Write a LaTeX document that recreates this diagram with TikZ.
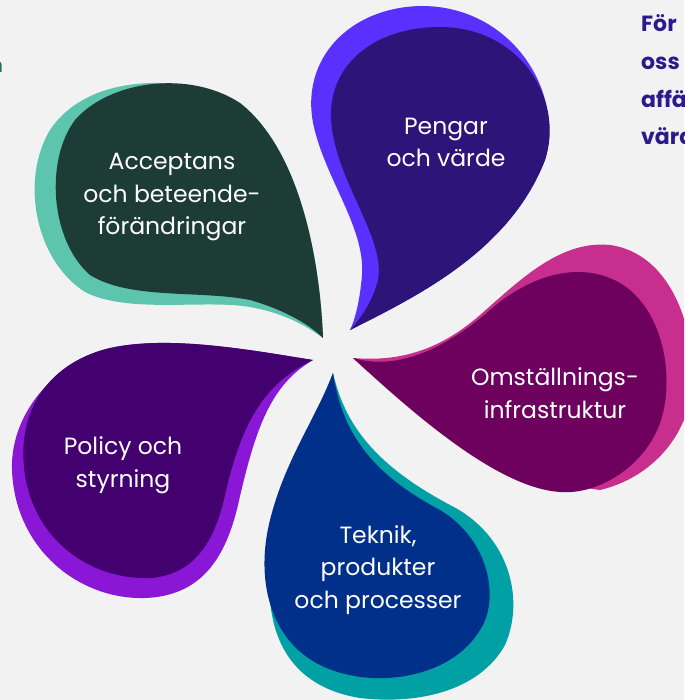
\documentclass[tikz,border=0pt]{standalone}
\usepackage{fontspec}
\setmainfont{Poppins}
\definecolor{bg}{HTML}{F2F2F2}
\definecolor{pgIn}{HTML}{2D1478}
\definecolor{pgOut}{HTML}{5A30FF}
\definecolor{omIn}{HTML}{6E005E}
\definecolor{omOut}{HTML}{C72E8E}
\definecolor{teIn}{HTML}{00308A}
\definecolor{teOut}{HTML}{00A0A4}
\definecolor{poIn}{HTML}{43006F}
\definecolor{poOut}{HTML}{8A16D6}
\definecolor{acIn}{HTML}{1E3C36}
\definecolor{acOut}{HTML}{5DC4AE}
\definecolor{sideText}{HTML}{2D1A8A}
\definecolor{leftText}{HTML}{1E6E5E}
\tikzset{
  label/.style={align=center, text=white, inner sep=0pt, anchor=base,
    font=\fontsize{23.5}{32.5}\selectfont},
  sidetext/.style={align=left, text=sideText, inner sep=0pt, anchor=base west,
    font=\fontsize{22}{37.7}\selectfont\bfseries}
}
\begin{document}
\begin{tikzpicture}[x=1pt,y=-1pt]
\fill[bg] (0,0) rectangle (684,700);
\useasboundingbox (0,0) rectangle (684,700);
\begin{scope}
\clip (0,0) rectangle (684,700);
% Pengar
\fill[pgOut] (350,330) .. controls (420,295) and (510,250) .. (545,160)
  .. controls (565,90) and (510,5) .. (420,6)
  .. controls (345,8) and (295,65) .. (316,135)
  .. controls (330,185) and (365,230) .. (362,275)
  .. controls (360,300) and (355,320) .. (350,330) -- cycle;
\fill[pgIn] (350,330) .. controls (420,295) and (510,250) .. (545,160)
  .. controls (565,100) and (520,27) .. (440,27)
  .. controls (370,27) and (320,70) .. (333,135)
  .. controls (343,190) and (385,240) .. (378,280)
  .. controls (372,305) and (355,325) .. (350,330) -- cycle;
% Omstallnings
\fill[omOut] (353,358) .. controls (400,362) and (440,350) .. (480,315)
  .. controls (520,280) and (560,240) .. (610,245)
  .. controls (680,255) and (700,350) .. (690,400)
  .. controls (682,440) and (650,478) .. (600,490)
  .. controls (520,480) and (420,420) .. (353,358) -- cycle;
\fill[omIn] (353,358) .. controls (400,372) and (450,345) .. (490,310)
  .. controls (530,275) and (580,260) .. (620,283)
  .. controls (665,310) and (675,380) .. (660,423)
  .. controls (645,465) and (600,495) .. (560,492)
  .. controls (500,488) and (420,420) .. (353,358) -- cycle;
% Teknik
\fill[teOut] (333,373) .. controls (345,425) and (375,465) .. (450,505)
  .. controls (510,535) and (525,600) .. (505,645)
  .. controls (480,690) and (420,705) .. (360,698)
  .. controls (310,690) and (275,660) .. (270,600)
  .. controls (270,520) and (315,420) .. (333,373) -- cycle;
\fill[teIn] (333,373) .. controls (342,430) and (368,472) .. (440,510)
  .. controls (490,540) and (500,600) .. (480,630)
  .. controls (450,680) and (370,690) .. (320,665)
  .. controls (270,640) and (255,580) .. (270,520)
  .. controls (285,460) and (315,420) .. (333,373) -- cycle;
% Policy
\fill[poOut] (313,360) .. controls (250,350) and (170,335) .. (110,348)
  .. controls (60,360) and (10,410) .. (12,470)
  .. controls (15,550) and (80,600) .. (145,598)
  .. controls (200,596) and (225,560) .. (238,505)
  .. controls (255,430) and (270,385) .. (313,360) -- cycle;
\fill[poIn] (313,360) .. controls (250,350) and (170,335) .. (110,348)
  .. controls (50,362) and (15,410) .. (25,475)
  .. controls (35,540) and (90,580) .. (150,578)
  .. controls (195,575) and (215,540) .. (225,495)
  .. controls (240,430) and (260,385) .. (313,360) -- cycle;
% Acceptans
\fill[acOut] (323,338) .. controls (320,260) and (300,150) .. (240,103)
  .. controls (190,75) and (90,70) .. (50,130)
  .. controls (20,180) and (35,260) .. (85,292)
  .. controls (130,315) and (210,298) .. (255,308)
  .. controls (290,315) and (312,330) .. (323,338) -- cycle;
\fill[acIn] (323,338) .. controls (320,260) and (300,150) .. (240,103)
  .. controls (190,70) and (110,80) .. (75,120)
  .. controls (45,160) and (50,240) .. (90,275)
  .. controls (130,300) and (200,290) .. (250,300)
  .. controls (285,310) and (310,325) .. (323,338) -- cycle;
\end{scope}
% labels (anchor = baseline of last line)
\node[label] (pengar) at (446,167) {Pengar\\och värde};
\node[label] (omst) at (555,418) {Omställnings-\\infrastruktur};
\node[label] (teknik) at (378,608) {Teknik,\\produkter\\och processer};
\node[label] (policy) at (123,487) {Policy och\\styrning};
\node[label] (accept) at (172,235) {Acceptans\\och beteende-\\förändringar};
\node[sidetext] (side) at (641,145) {För\\oss\\affä\\värd};
\node[anchor=base east, inner sep=0pt, text=leftText, font=\fontsize{20}{24}\selectfont\bfseries] (leftn) at (3,73) {n};
\end{tikzpicture}
\end{document}
